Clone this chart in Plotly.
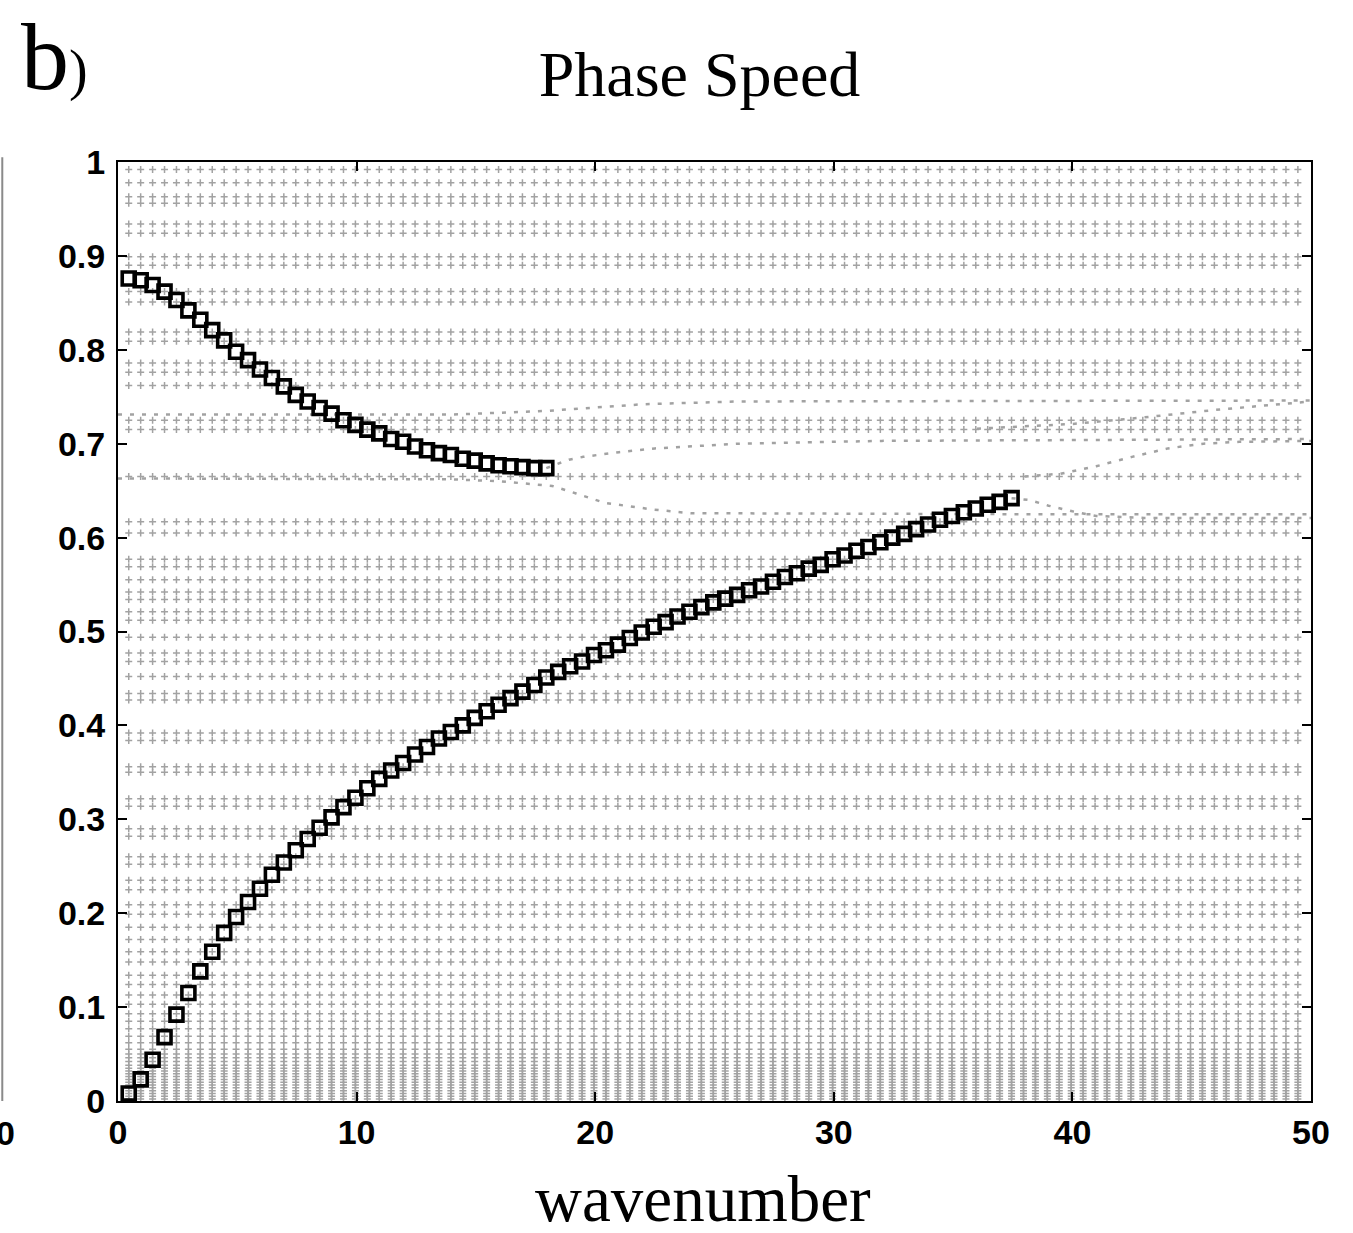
import numpy as np
import plotly.graph_objects as go

# ---------------- data ----------------
# wavenumber grid on which the spectrum was computed
K_START, K_STEP, K_COUNT = 0.45, 0.5, 99
wavenumber = [round(K_START + K_STEP * i, 3) for i in range(K_COUNT)]

# discrete mode 1 (upper branch), first 36 wavenumbers
upper_mode = [0.876, 0.874, 0.869, 0.862, 0.853, 0.842, 0.832, 0.821, 0.810, 0.798,
              0.789, 0.779, 0.770, 0.761, 0.752, 0.745, 0.738, 0.732, 0.725, 0.720,
              0.715, 0.711, 0.705, 0.702, 0.697, 0.693, 0.690, 0.688, 0.684, 0.682,
              0.679, 0.677, 0.676, 0.675, 0.674, 0.674]

# discrete mode 2 (lower branch), first 75 wavenumbers
lower_mode = [0.008, 0.023, 0.044, 0.068, 0.092, 0.115, 0.138, 0.159, 0.179, 0.196,
              0.212, 0.226, 0.241, 0.254, 0.267, 0.279, 0.291, 0.302, 0.313, 0.323,
              0.333, 0.343, 0.352, 0.360, 0.369, 0.377, 0.386, 0.393, 0.400, 0.408,
              0.415, 0.422, 0.429, 0.436, 0.443, 0.451, 0.457, 0.463, 0.468, 0.475,
              0.480, 0.486, 0.493, 0.499, 0.505, 0.510, 0.516, 0.521, 0.526, 0.531,
              0.535, 0.539, 0.544, 0.548, 0.553, 0.558, 0.562, 0.567, 0.571, 0.577,
              0.581, 0.586, 0.590, 0.595, 0.600, 0.604, 0.609, 0.614, 0.619, 0.623,
              0.627, 0.631, 0.635, 0.638, 0.642]

# continuous-spectrum phase speeds that stay (nearly) constant with wavenumber
continuum_levels = [0.992, 0.978, 0.963, 0.956, 0.934, 0.924, 0.899, 0.890, 0.862, 0.851,
                    0.819, 0.809, 0.786, 0.776, 0.762, 0.725, 0.715, 0.665,
                    0.617, 0.605, 0.577, 0.569, 0.555, 0.542, 0.534, 0.521, 0.512,
                    0.494, 0.477, 0.468, 0.452, 0.434, 0.427, 0.392, 0.384, 0.356,
                    0.350, 0.322, 0.314, 0.290, 0.282, 0.260, 0.252, 0.235, 0.225,
                    0.209, 0.199, 0.185, 0.172, 0.159, 0.148, 0.134, 0.124, 0.113,
                    0.103, 0.093, 0.085, 0.077, 0.069, 0.062, 0.055, 0.050, 0.046,
                    0.042, 0.038, 0.035, 0.032, 0.029, 0.026, 0.023, 0.020, 0.017,
                    0.014, 0.011, 0.008, 0.005, 0.002]

# continuum branches that bend near the ends of the discrete modes (wavenumber, speed)
bent_rows = [
    [(17.95, 0.674), (18.9, 0.683), (19.5, 0.686), (21.0, 0.691), (22.5, 0.695),
     (24.0, 0.697), (26.0, 0.700), (32.0, 0.703), (50.0, 0.705)],
    [(0.0, 0.663), (14.0, 0.662), (16.0, 0.660), (18.2, 0.655), (19.2, 0.647),
     (20.4, 0.637), (22.4, 0.630), (24.0, 0.626), (37.0, 0.625), (50.0, 0.625)],
    [(37.45, 0.642), (38.2, 0.640), (39.0, 0.634), (40.0, 0.628), (41.0, 0.623),
     (43.0, 0.621), (50.0, 0.621)],
    [(38.0, 0.665), (39.5, 0.668), (41.0, 0.676), (42.5, 0.686), (44.0, 0.695),
     (45.5, 0.700), (47.0, 0.702), (50.0, 0.703)],
    [(0.0, 0.731), (14.0, 0.731), (18.0, 0.735), (22.0, 0.742), (26.0, 0.745),
     (50.0, 0.746)],
    [(36.0, 0.716), (40.0, 0.721), (43.0, 0.728), (46.0, 0.736), (50.0, 0.745)],
]

x_ticks = [0, 10, 20, 30, 40, 50]
y_ticks = [0, 0.1, 0.2, 0.3, 0.4, 0.5, 0.6, 0.7, 0.8, 0.9, 1]
y_tick_labels = ["0", "0.1", "0.2", "0.3", "0.4", "0.5", "0.6", "0.7", "0.8", "0.9", "1"]

# ---------------- figure ----------------
GRAY = "#a2a2a2"
TICK_FONT = dict(family="Liberation Sans, Arial, sans-serif", size=34, color="black",
                 weight="bold")
SERIF = "Liberation Serif, Times New Roman, serif"

fig = go.Figure()

cx, cy = [], []
for lev in continuum_levels:
    cx.extend(wavenumber)
    cy.extend([lev] * len(wavenumber))
fig.add_trace(go.Scatter(
    x=cx, y=cy, mode="markers", hoverinfo="skip",
    marker=dict(symbol="cross-thin", size=5, color=GRAY,
                line=dict(width=1.5, color=GRAY)),
))

for row in bent_rows:
    fig.add_trace(go.Scatter(
        x=[p[0] for p in row], y=[p[1] for p in row], mode="lines",
        hoverinfo="skip",
        line=dict(color=GRAY, width=2.5, dash="4px,8px"),
    ))

mode_marker = dict(symbol="square-open", size=13, color="black",
                   line=dict(width=3.6, color="black"))
fig.add_trace(go.Scatter(x=wavenumber[:len(upper_mode)], y=upper_mode,
                         mode="markers", marker=mode_marker))
fig.add_trace(go.Scatter(x=wavenumber[:len(lower_mode)], y=lower_mode,
                         mode="markers", marker=mode_marker))

axis_common = dict(
    showgrid=False, zeroline=False, showline=True, linecolor="black",
    linewidth=2, mirror="ticks", ticks="inside", ticklen=9, tickwidth=1.5,
    tickcolor="black", tickfont=TICK_FONT,
)

fig.update_layout(
    width=1353, height=1233,
    margin=dict(l=118, r=42, t=162, b=132),
    paper_bgcolor="white", plot_bgcolor="white",
    showlegend=False,
    xaxis=dict(range=[0, 50], tickvals=x_ticks, ticktext=[str(v) for v in x_ticks],
               ticklabelstandoff=0, **axis_common),
    yaxis=dict(range=[0, 1], tickvals=y_ticks, ticktext=y_tick_labels,
               ticklabelstandoff=4, **axis_common),
    title=dict(text="Phase Speed", x=0.517, xanchor="center", xref="container",
               y=0.94, yanchor="middle", yref="container",
               font=dict(family=SERIF, size=64, color="black")),
)

fig.add_annotation(text="wavenumber", xref="paper", yref="paper",
                   x=0.49, y=-0.104, xanchor="center", yanchor="middle",
                   showarrow=False, font=dict(family=SERIF, size=65, color="black"))
fig.add_annotation(text="b<span style='font-size:56px'>)</span>",
                   xref="paper", yref="paper", x=-0.083, y=1.112,
                   xanchor="left", yanchor="middle", showarrow=False,
                   font=dict(family=SERIF, size=96, color="black"))
# edge of the neighbouring panel a)
fig.add_shape(type="line", xref="paper", yref="paper", x0=-0.097, x1=-0.097,
              y0=0.0, y1=1.005, line=dict(color="#8a8a8a", width=2))
fig.add_annotation(text="0", xref="paper", yref="paper", x=-0.0947, y=-0.034,
                   xanchor="center", yanchor="middle", showarrow=False,
                   font=TICK_FONT)

fig.write_html("out.html")
